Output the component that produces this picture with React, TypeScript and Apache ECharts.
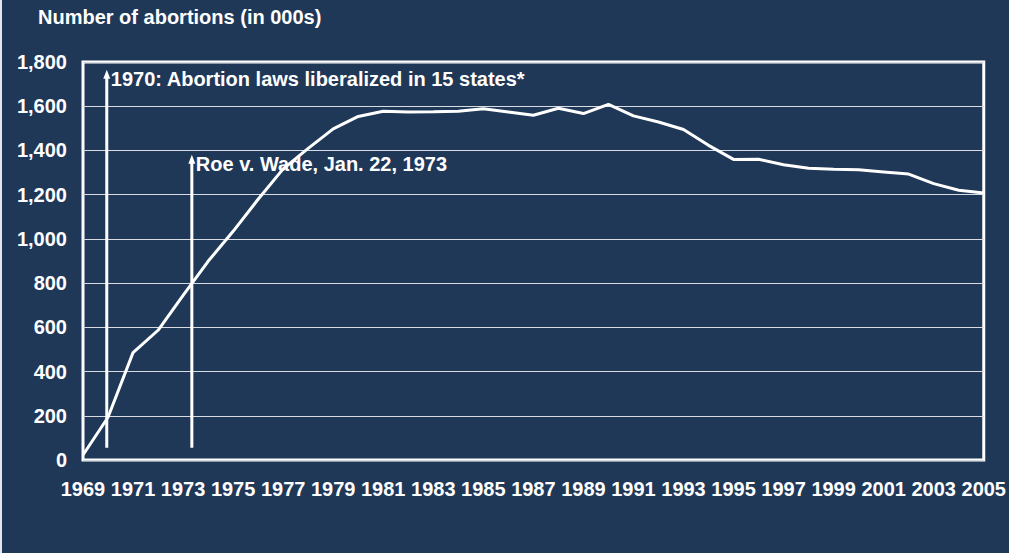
import React, { useEffect, useRef } from "react";
import * as echarts from "echarts";

const years = [
  "1969", "1970", "1971", "1972", "1973", "1974", "1975", "1976", "1977", "1978",
  "1979", "1980", "1981", "1982", "1983", "1984", "1985", "1986", "1987", "1988",
  "1989", "1990", "1991", "1992", "1993", "1994", "1995", "1996", "1997", "1998",
  "1999", "2000", "2001", "2002", "2003", "2004", "2005",
];

const abortions = [
  22.7, 193.5, 485.8, 586.8, 744.6, 898.6, 1034.2, 1179.3, 1316.7, 1409.6,
  1497.7, 1553.9, 1577.3, 1573.9, 1575.0, 1577.2, 1588.6, 1574.0, 1559.1, 1590.8,
  1566.9, 1608.6, 1556.5, 1528.9, 1495.0, 1423.0, 1359.4, 1360.2, 1335.0, 1319.0,
  1314.8, 1313.0, 1303.0, 1293.0, 1250.0, 1220.0, 1208.0,
];

const titleText = "Number of abortions (in 000s)";

// annotation anchors in data space: category index (fractional), value range of arrow
const annotationLabels = ["1970: Abortion laws liberalized in 15 states*", "Roe v. Wade, Jan. 22, 1973"];
const annotationIndex = [0.95, 4.35];
const annotationFrom = [55, 55];
const annotationTo = [1765, 1380];

const BG = "#1F3858";
const FONT = "'Liberation Sans', Arial, sans-serif";
const FS = 20;

export default function App() {
  const ref = useRef<HTMLDivElement>(null);

  useEffect(() => {
    const chart = echarts.init(ref.current!, null, { renderer: "svg" });
    chart.setOption({
      animation: false,
      backgroundColor: BG,
      textStyle: { fontFamily: FONT },
      title: {
        text: titleText,
        left: 38,
        top: 7,
        padding: 0,
        textStyle: { color: "#fff", fontSize: FS, fontWeight: "bold", fontFamily: FONT },
      },
      grid: {
        left: 83,
        right: 24,
        top: 62,
        bottom: 93,
        show: true,
        borderColor: "#ffffff",
        borderWidth: 3,
        backgroundColor: "transparent",
      },
      xAxis: {
        type: "category",
        data: years,
        boundaryGap: false,
        axisLine: { show: false },
        axisTick: { show: false },
        splitLine: { show: false },
        axisLabel: {
          interval: 1,
          color: "#fff",
          fontSize: FS,
          fontWeight: "bold",
          fontFamily: FONT,
          margin: 19,
          showMinLabel: true,
          showMaxLabel: true,
        },
      },
      yAxis: {
        type: "value",
        min: 0,
        max: 1800,
        interval: 200,
        axisLine: { show: false },
        axisTick: { show: false },
        splitLine: { show: true, lineStyle: { color: "#d8dce2", width: 1 } },
        axisLabel: {
          color: "#fff",
          fontSize: FS,
          fontWeight: "bold",
          fontFamily: FONT,
          margin: 16,
          formatter: (v: number) => v.toLocaleString("en-US"),
        },
      },
      series: [
        {
          type: "line",
          data: abortions,
          symbol: "none",
          lineStyle: { color: "#ffffff", width: 3 },
          z: 3,
        },
      ],
    });

    const graphics: any[] = [
      { type: "rect", shape: { x: 0, y: 0, width: 2, height: 553 }, style: { fill: "#e4e7eb" } },
    ];
    annotationLabels.forEach((label, i) => {
      const idx = annotationIndex[i];
      const lo = Math.floor(idx);
      const hi = Math.min(lo + 1, years.length - 1);
      const frac = idx - lo;
      const pLo = chart.convertToPixel({ gridIndex: 0 }, [lo, annotationFrom[i]]) as number[];
      const pHi = chart.convertToPixel({ gridIndex: 0 }, [hi, annotationFrom[i]]) as number[];
      const pTop = chart.convertToPixel({ gridIndex: 0 }, [lo, annotationTo[i]]) as number[];
      const x = pLo[0] + (pHi[0] - pLo[0]) * frac;
      const yb = pLo[1];
      const yt = pTop[1];
      graphics.push({
        type: "line",
        shape: { x1: x, y1: yb, x2: x, y2: yt + 6 },
        style: { stroke: "#fff", lineWidth: 3 },
        z: 10,
      });
      graphics.push({
        type: "polygon",
        shape: { points: [[x - 3.5, yt + 9], [x + 3.5, yt + 9], [x, yt]] },
        style: { fill: "#fff" },
        z: 10,
      });
      graphics.push({
        type: "text",
        x: x + 4,
        y: yt + 9,
        style: {
          text: label,
          fill: "#fff",
          font: `bold ${FS}px ${FONT}`,
          textVerticalAlign: "middle",
          verticalAlign: "middle",
          align: "left",
        },
        z: 10,
      });
    });
    chart.setOption({ graphic: graphics });

    return () => chart.dispose();
  }, []);

  return (
    <div
      ref={ref}
      style={{ position: "absolute", left: 0, top: 0, width: 1009, height: 553 }}
    />
  );
}
